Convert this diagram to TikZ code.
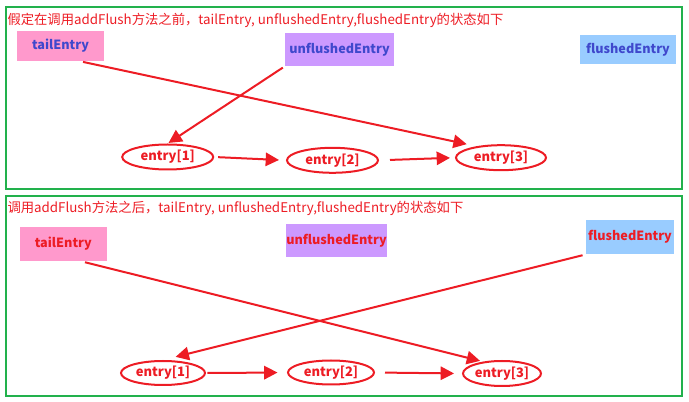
\documentclass[tikz,border=0pt]{standalone}
\usepackage{fontspec}
\setmainfont{Noto Sans CJK SC}
\usetikzlibrary{arrows.meta,shapes.geometric}

\definecolor{lred}{HTML}{ED1C24}
\definecolor{lgreen}{HTML}{22B14C}
\definecolor{lindigo}{HTML}{3F48CC}
\definecolor{lpink}{HTML}{FF99CC}
\definecolor{lpurple}{HTML}{CC99FF}
\definecolor{lblue}{HTML}{99CCFF}

\tikzset{every picture/.style={line width=0.75pt}}
\tikzset{
	panel/.style={draw=lgreen, line width=1.5pt},
	caption/.style={anchor=west, inner sep=0pt, text=lred, font=\fontsize{10}{12}\selectfont},
	namebox/.style={inner sep=0pt, font=\bfseries\fontsize{9.5}{11}\selectfont},
	entrynode/.style={ellipse, draw=lred, line width=1.5pt, inner sep=0pt, text=lred, font=\bfseries\fontsize{9.75}{12}\selectfont},
	link/.style={draw=lred, line width=1.5pt, -{Triangle[length=10pt,width=10pt]}}
}

\begin{document}
\begin{tikzpicture}[x=0.75pt,y=0.75pt,yscale=-1,xscale=1]
		\useasboundingbox (0,0) rectangle (689,402);
		
		%Shape: Rectangle (before)
		\draw [panel] (6,7.5) rectangle (681.5,189) ;
		%Shape: Rectangle (after)
		\draw [panel] (6,196.5) rectangle (681.5,396) ;
		
		% Text Node
		\node [caption] (cap1) at (7,20) {假定在调用addFlush方法之前，tailEntry, unflushedEntry,flushedEntry的状态如下};
		% Text Node
		\node [caption] (cap2) at (7,208) {调用addFlush方法之后，tailEntry, unflushedEntry,flushedEntry的状态如下};
		
		% Before: pointers
		\node [namebox, fill=lpink, text=lindigo, minimum width=65.25pt, minimum height=22.5pt] (tail1) at (60.5,46) {tailEntry};
		\node [namebox, fill=lpurple, text=lindigo, minimum width=81.75pt, minimum height=24.75pt] (unf1) at (339.5,49.5) {unflushedEntry};
		\node [namebox, fill=lblue, text=lindigo, minimum width=72pt, minimum height=21.75pt] (flu1) at (628,49.5) {flushedEntry};
		% Before: entries
		\node [entrynode, minimum width=68.25pt, minimum height=18.75pt] (e11) at (167.7,157) {entry[1]};
		\node [entrynode, minimum width=68.25pt, minimum height=18.75pt] (e12) at (332.5,160.3) {entry[2]};
		\node [entrynode, minimum width=67.5pt, minimum height=18.75pt] (e13) at (501,157.7) {entry[3]};
		
		%Straight Lines
		\draw [link, shorten <=1.5pt, shorten >=7.5pt] (tail1.-37) -- (e13.155) ;
		\draw [link, shorten <=1.5pt, shorten >=0.75pt] (unf1.south west) -- (e11.north) ;
		\draw [link, shorten <=3pt, shorten >=5.25pt] (e11.east) -- (e12.west) ;
		\draw [link, shorten <=8.25pt, shorten >=3.75pt] (e12.east) -- (e13.west) ;
		
		% After: pointers
		\node [namebox, fill=lpink, text=lred, minimum width=65.25pt, minimum height=25.5pt] (tail2) at (63.3,244) {tailEntry};
		\node [namebox, fill=lpurple, text=lred, minimum width=74.25pt, minimum height=24.75pt] (unf2) at (336.5,240.5) {unflushedEntry};
		\node [namebox, fill=lblue, text=lred, minimum width=66pt, minimum height=25.5pt] (flu2) at (630,237) {flushedEntry};
		% After: entries
		\node [entrynode, minimum width=63pt, minimum height=18pt] (e21) at (163,373) {entry[1]};
		\node [entrynode, minimum width=64.5pt, minimum height=18pt] (e22) at (331,372.5) {entry[2]};
		\node [entrynode, minimum width=58.5pt, minimum height=18.75pt] (e23) at (502,373.5) {entry[3]};
		
		%Straight Lines
		\draw [link, shorten <=2.25pt, shorten >=2.25pt] (tail2.-43) -- (e23.148) ;
		\draw [link, shorten <=2.25pt, shorten >=9.75pt] (flu2.south west) -- (e21.north) ;
		\draw [link, shorten <=1.1pt, shorten >=7.1pt] (e21.east) -- (e22.west) ;
		\draw [link, shorten <=7.5pt, shorten >=6pt] (e22.east) -- (e23.west) ;
	\end{tikzpicture}
\end{document}
